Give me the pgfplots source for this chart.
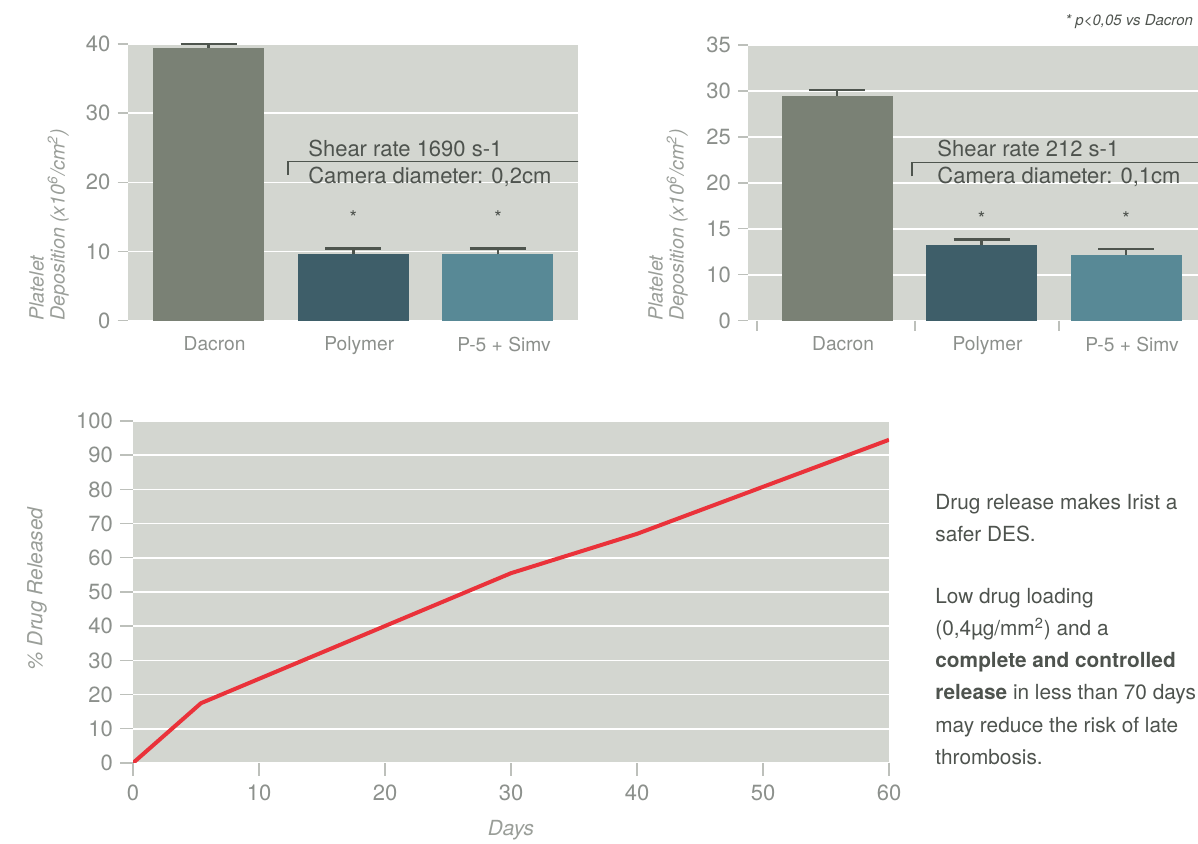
\documentclass[border=0pt]{standalone}
\usepackage{pgfplots}
\pgfplotsset{compat=1.18}
\usepackage{fontspec}
\setmainfont{TeX Gyre Heros}

\definecolor{panel}{HTML}{D3D6D0}
\definecolor{dacron}{HTML}{7A8175}
\definecolor{polymer}{HTML}{3E5E69}
\definecolor{simv}{HTML}{588996}
\definecolor{ticklab}{HTML}{8C908C}
\definecolor{axlab}{HTML}{9A9E99}
\definecolor{tickcol}{HTML}{BDC0BB}
\definecolor{errcol}{HTML}{4E554E}
\definecolor{bodytext}{HTML}{4E534E}
\definecolor{curve}{HTML}{EA323A}

\pgfplotsset{
  /pgf/number format/assume math mode=true,
  panel/.style={
    scale only axis,
    anchor=south west,
    axis background/.style={fill=panel},
    axis line style={draw=none},
    tick align=outside,
    xtick pos=bottom, ytick pos=left,
    ymajorgrids,
    grid style={white, line width=0.8pt},
    major tick style={tickcol, line width=0.7pt},
    major tick length=5pt,
    tick label style={text=ticklab},
    yticklabel style={font=\fontsize{11}{13}\selectfont},
    xticklabel style={font=\fontsize{9.6}{11}\selectfont},
  },
  barpanel/.style={
    panel,
    ybar, bar width=55.5pt,
    xtick={0,1,2},
    xticklabels={Dacron,Polymer,P-5 + Simv},
    xtick style={draw=none},
    xticklabel shift=-0.5pt,
    xticklabel style={xshift=3pt},
  },
  catbar/.style={
    draw=none, fill=#1, bar shift=0pt,
    error bars/.cd, y dir=plus, y explicit,
    error bar style={errcol, line width=1.4pt},
    error mark options={errcol, rotate=90, mark size=14pt, line width=1.4pt},
  },
}

\begin{document}
\begin{tikzpicture}
\path[use as bounding box] (0,0) rectangle (599pt,422pt);
\clip (0,0) rectangle (599pt,422pt);

% top left: shear rate 1690
\begin{axis}[barpanel,
  at={(63.75pt,261.65pt)}, width=225.25pt, height=138.35pt,
  xmin=-0.56, xmax=2.553, ymin=0, ymax=40,
  ytick={0,10,20,30,40},
]
\addplot[catbar=dacron] coordinates {(0,39.4) +- (0,0.6)};
\addplot[catbar=polymer] coordinates {(1,9.7) +- (0,0.7)};
\addplot[catbar=simv] coordinates {(2,9.6) +- (0,0.8)};
\draw[errcol, line width=0.75pt] (axis cs:0.549,21.1) |- (axis cs:2.6,23.0);
\node[anchor=base west, inner sep=0, text=bodytext, font=\fontsize{11}{13}\selectfont]
  at (axis cs:0.687,23.8) {Shear rate 1690 s-1};
\node[anchor=base west, inner sep=0, text=bodytext, font=\fontsize{11}{13}\selectfont]
  at (axis cs:0.687,19.9) {Camera diameter: 0,2cm};
\node[text=bodytext, font=\fontsize{9.5}{10}\selectfont] at (axis cs:1,14.9) {*};
\node[text=bodytext, font=\fontsize{9.5}{10}\selectfont] at (axis cs:2,14.9) {*};
\end{axis}

% top right: shear rate 212 (broken axis: 0 then 10..35)
\begin{axis}[barpanel,
  at={(374pt,261.65pt)}, width=230.5pt, height=137.85pt,
  xmin=-0.616, xmax=2.574, ymin=5, ymax=35,
  ytick={5,10,15,20,25,30,35},
  yticklabels={0,10,15,20,25,30,35},
]
\addplot[catbar=dacron] coordinates {(0,29.4) +- (0,0.7)};
\addplot[catbar=polymer] coordinates {(1,13.2) +- (0,0.6)};
\addplot[catbar=simv] coordinates {(2,12.15) +- (0,0.65)};
\draw[errcol, line width=0.75pt] (axis cs:0.519,20.7) |- (axis cs:2.7,22.2);
\node[anchor=base west, inner sep=0, text=bodytext, font=\fontsize{11}{13}\selectfont]
  at (axis cs:0.692,22.85) {Shear rate 212 s-1};
\node[anchor=base west, inner sep=0, text=bodytext, font=\fontsize{11}{13}\selectfont]
  at (axis cs:0.692,19.95) {Camera diameter: 0,1cm};
\node[text=bodytext, font=\fontsize{9.5}{10}\selectfont] at (axis cs:1,16.15) {*};
\node[text=bodytext, font=\fontsize{9.5}{10}\selectfont] at (axis cs:2,16.15) {*};
\end{axis}
\foreach \xx in {378.5,457.5,529.5}
  \draw[tickcol, line width=0.7pt] (\xx pt,261.65pt) -- ++(0,-5pt);

% bottom: drug release
\begin{axis}[panel,
  at={(66.5pt,40.5pt)}, width=378pt, height=171pt,
  xmin=0, xmax=60, ymin=0, ymax=100,
  xtick={0,10,...,60}, ytick={0,10,...,100},
  major tick length=6.5pt,
  xticklabel style={font=\fontsize{11}{13}\selectfont},
  xticklabel shift=1pt,
]
\addplot[curve, line width=2pt] coordinates {
  (0,0) (5.4,17.5) (30,55.5) (40,67) (60,94.5)
};
\end{axis}

% axis titles
\begin{scope}[text=axlab]
\node[rotate=90, anchor=north west, align=left, inner sep=0,
  font=\fontsize{9.8}{10.5}\selectfont\itshape] at (14.5pt,261.5pt)
  {Platelet\\Deposition (x10\textsuperscript{6}/cm\textsuperscript{2})};
\node[rotate=90, anchor=north west, align=left, inner sep=0,
  font=\fontsize{9.8}{10.5}\selectfont\itshape] at (324pt,261.5pt)
  {Platelet\\Deposition (x10\textsuperscript{6}/cm\textsuperscript{2})};
\node[rotate=90, font=\fontsize{10.4}{12}\selectfont\itshape] at (18.5pt,127.5pt) {\% Drug Released};
\node[font=\fontsize{10.4}{12}\selectfont\itshape] at (255.5pt,7pt) {Days};
\end{scope}
\node[anchor=base west, inner sep=0, text=bodytext, font=\fontsize{7.5}{9}\selectfont\itshape]
  at (532.5pt,409pt) {* p<0,05 vs Dacron};

% side text
\begin{scope}[every node/.style={anchor=base west, inner sep=0, text=bodytext,
  font=\fontsize{10.4}{12}\selectfont}]
\node at (467.5pt,167.35pt) {Drug release makes Irist a};
\node at (467.5pt,151.15pt) {safer DES.};
\node at (467.5pt,120.35pt) {Low drug loading};
\node at (467.5pt,104.25pt) {(0,4µg/mm\textsuperscript{2}) and a};
\node at (467.5pt,88.15pt) {\textbf{complete and controlled}};
\node at (467.5pt,72.05pt) {\textbf{release} in less than 70 days};
\node at (467.5pt,55.95pt) {may reduce the risk of late};
\node at (467.5pt,39.85pt) {thrombosis.};
\end{scope}
\end{tikzpicture}
\end{document}
